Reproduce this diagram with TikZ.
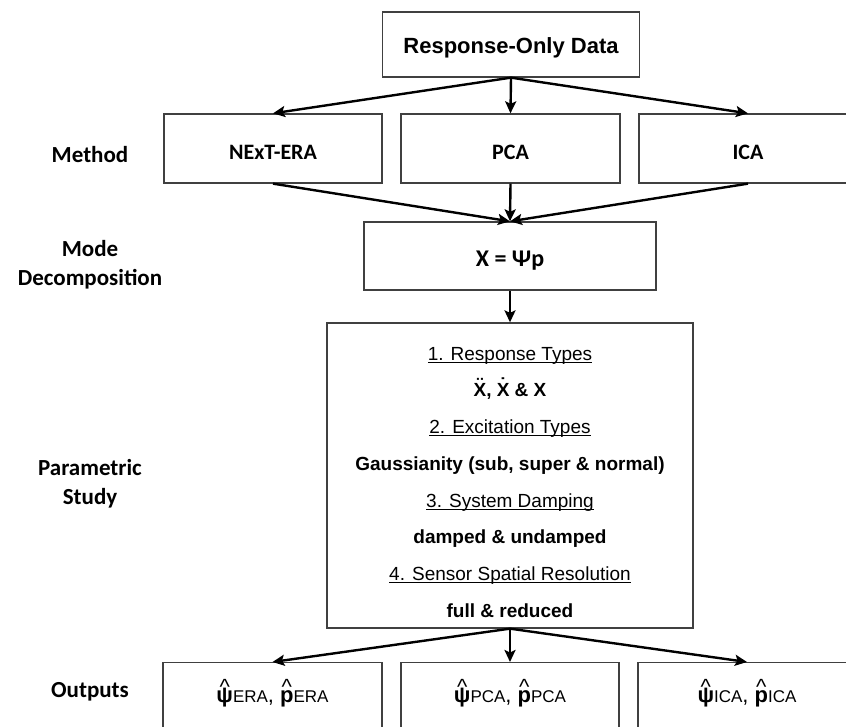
\documentclass[tikz,border=0pt]{standalone}
\usepackage{fontspec}
\setmainfont{Liberation Sans}
\newfontfamily\calfont{Carlito}
\usetikzlibrary{arrows.meta}
\newcommand\myul[1]{\setbox0\hbox{#1}\rlap{\rule[-3pt]{\wd0}{1.1pt}}\box0}
\newcommand\stackover[3]{\leavevmode\vbox{\offinterlineskip\halign{\hfil##\hfil\cr#1\cr\noalign{\kern#3}#2\cr}}}
\begin{document}
\begin{tikzpicture}[x=1pt,y=-1pt,
  box/.style={draw=black!75, line width=1.3pt, inner sep=0pt, text=black},
  boxtxt/.style={font=\calfont\bfseries\fontsize{22}{24}\selectfont},
  sidelab/.style={font=\calfont\bfseries\fontsize{23}{29}\selectfont, align=center, text=black},
  ptitle/.style={anchor=base, font=\fontsize{19}{22}\selectfont},
  pbody/.style={anchor=base, font=\bfseries\fontsize{19}{22}\selectfont},
  outtxt/.style={font=\fontsize{22}{24}\selectfont, text height=15pt, text depth=15pt},
  sup/.style={},
  arr/.style={line width=2.4pt, black, -{Stealth[length=12pt,width=11pt,inset=2.5pt]}}]
\useasboundingbox (0,0) rectangle (846,727);
\fill[white] (0,0) rectangle (846,727);
\clip (0,0) rectangle (846,727);

% side labels
\node[sidelab] (lmethod) at (90,155) {Method};
\node[sidelab] (lmode) at (90,265) {Mode\\Decomposition};
\node[sidelab] (lparam) at (90,484) {Parametric\\Study};
\node[sidelab] (lout) at (90,692) {Outputs};

% boxes
\node[box, minimum width=257pt, minimum height=65pt, font=\bfseries\fontsize{22}{24}\selectfont, text height=19pt, text depth=0pt] (top) at (511,44.5) {Response-Only Data};
\node[box, boxtxt, minimum width=218pt, minimum height=69pt, text height=23pt, text depth=0pt] (era) at (273,148.5) {NExT-ERA};
\node[box, boxtxt, minimum width=219pt, minimum height=69pt, text height=23pt, text depth=0pt] (pca) at (510.5,148.5) {PCA};
\node[box, boxtxt, minimum width=218pt, minimum height=69pt, text height=23pt, text depth=0pt] (ica) at (748,148.5) {ICA};
\node[box, font=\calfont\bfseries\fontsize{24}{26}\selectfont, minimum width=292pt, minimum height=68pt, text height=22pt, text depth=0pt] (xb) at (510,256) {X = Ψp};
\node[box, minimum width=366pt, minimum height=305pt] (ps) at (510,475.5) {};

% parametric study text
\node[ptitle] (p1) at (510,360) {\myul{1. Response Types}};
\node[pbody] (p2) at (510,396.5) {\stackover{¨}{X}{-8pt}, \stackover{˙}{X}{-8pt} \& X};
\node[ptitle] (p3) at (510,433) {\myul{2. Excitation Types}};
\node[pbody] (p4) at (510,470) {Gaussianity (sub, super \& normal)};
\node[ptitle] (p5) at (510,507) {\myul{3. System Damping}};
\node[pbody] (p6) at (510,543) {damped \& undamped};
\node[ptitle] (p7) at (510,580) {\myul{4. Sensor Spatial Resolution}};
\node[pbody] (p8) at (510,617) {full \& reduced};

% output boxes
\node[box, outtxt, minimum width=219pt, minimum height=80pt, anchor=north] (oera) at (272.5,662)
  {\stackover{\textasciicircum}{\bfseries ψ}{-6pt}{\fontsize{17}{18}\selectfont ERA}, \stackover{\textasciicircum}{\bfseries p}{-4pt}{\fontsize{17}{18}\selectfont ERA}};
\node[box, outtxt, minimum width=218pt, minimum height=80pt, anchor=north] (opca) at (510,662)
  {\stackover{\textasciicircum}{\bfseries ψ}{-6pt}{\fontsize{17}{18}\selectfont PCA}, \stackover{\textasciicircum}{\bfseries p}{-4pt}{\fontsize{17}{18}\selectfont PCA}};
\node[box, outtxt, minimum width=218pt, minimum height=80pt, anchor=north] (oica) at (747,662)
  {\stackover{\textasciicircum}{\bfseries ψ}{-6pt}{\fontsize{17}{18}\selectfont ICA}, \stackover{\textasciicircum}{\bfseries p}{-4pt}{\fontsize{17}{18}\selectfont ICA}};

% connectors
\draw[arr] (top.south) -- (era.north);
\draw[arr] (top.south) -- (pca.north);
\draw[arr] (top.south) -- (ica.north);
\draw[arr] (era.south) -- (xb.north);
\draw[arr] (pca.south) -- (xb.north);
\draw[arr] (ica.south) -- (xb.north);
\draw[arr] (xb.south) -- (ps.north);
\draw[arr] (ps.south) -- (oera.north);
\draw[arr] (ps.south) -- (opca.north);
\draw[arr] (ps.south) -- (oica.north);
\end{tikzpicture}
\end{document}
